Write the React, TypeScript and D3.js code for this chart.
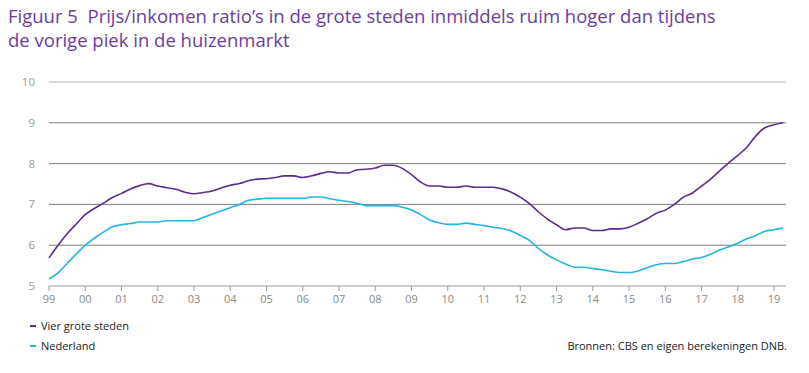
import React from "react";
import * as d3 from "d3";

const WIDTH = 809;
const HEIGHT = 373;
const MARGIN = { top: 82, right: 23, bottom: 87, left: 49 };

const PURPLE = "#5b2d8e";
const BLUE = "#22b5e2";

const yearLabels = ["99", "00", "01", "02", "03", "04", "05", "06", "07", "08", "09", "10", "11", "12", "13", "14", "15", "16", "17", "18", "19"];
const yTicks = [5, 6, 7, 8, 9, 10];

// quarterly, 1999Q1 .. 2019Q2
const vierGroteSteden = [
  5.69, 6.0, 6.28, 6.52, 6.75, 6.9, 7.03, 7.17,
  7.27, 7.38, 7.46, 7.51, 7.45, 7.41, 7.37, 7.3,
  7.26, 7.29, 7.33, 7.4, 7.47, 7.51, 7.58, 7.62,
  7.63, 7.66, 7.7, 7.7, 7.66, 7.7, 7.76, 7.8,
  7.77, 7.77, 7.85, 7.86, 7.89, 7.96, 7.96, 7.88,
  7.73, 7.55, 7.45, 7.45, 7.42, 7.42, 7.45, 7.42,
  7.42, 7.42, 7.38, 7.3, 7.18, 7.02, 6.82, 6.64,
  6.5, 6.38, 6.42, 6.42, 6.36, 6.36, 6.4, 6.4,
  6.44, 6.54, 6.65, 6.78, 6.86, 7.0, 7.18, 7.28,
  7.45, 7.62, 7.82, 8.02, 8.2, 8.4, 8.68, 8.88,
  8.95, 9.0,
];
const nederland = [
  5.17, 5.32, 5.55, 5.78, 6.0, 6.17, 6.32, 6.45,
  6.5, 6.53, 6.57, 6.57, 6.57, 6.6, 6.6, 6.6,
  6.6, 6.68, 6.76, 6.84, 6.92, 7.0, 7.1, 7.13,
  7.15, 7.15, 7.15, 7.15, 7.15, 7.18, 7.18, 7.14,
  7.1, 7.07, 7.03, 6.97, 6.97, 6.97, 6.97, 6.93,
  6.86, 6.75, 6.62, 6.55, 6.51, 6.51, 6.54, 6.51,
  6.48, 6.44, 6.41, 6.35, 6.24, 6.12, 5.92, 5.76,
  5.64, 5.54, 5.46, 5.46, 5.43, 5.4, 5.36, 5.33,
  5.33, 5.37, 5.45, 5.52, 5.55, 5.55, 5.6, 5.66,
  5.7, 5.78, 5.88, 5.96, 6.05, 6.16, 6.24, 6.34,
  6.38, 6.42,
];

const series = [
  { name: "Vier grote steden", values: vierGroteSteden, color: PURPLE },
  { name: "Nederland", values: nederland, color: BLUE },
];

const FONT = "'Open Sans', 'DejaVu Sans', sans-serif";

export default function App() {
  const innerW = WIDTH - MARGIN.left - MARGIN.right;
  const innerH = HEIGHT - MARGIN.top - MARGIN.bottom;

  const x = d3.scaleLinear().domain([1999, 2019.33]).range([0, innerW]);
  const y = d3.scaleLinear().domain([5, 10]).range([innerH, 0]);

  const line = d3
    .line<number>()
    .x((_, i) => x(1999 + i / 4))
    .y((d) => y(d))
    .curve(d3.curveMonotoneX);

  return (
    <svg
      width={WIDTH}
      height={HEIGHT}
      style={{ position: "absolute", left: 0, top: 0, background: "#fff" }}
      fontFamily={FONT}
    >
      <text x={8} y={23} fill="#6a3d9e" fontSize={18.5}>
        {"Figuur 5\u00a0\u00a0Prijs/inkomen ratio’s in de grote steden inmiddels ruim hoger dan tijdens"}
      </text>
      <text x={8} y={47} fill="#6a3d9e" fontSize={18.5}>
        de vorige piek in de huizenmarkt
      </text>

      <g transform={`translate(${MARGIN.left},${MARGIN.top})`}>
        {yTicks.map((t) => (
          <g key={t}>
            {t > 5 && (
              <line
                x1={0}
                x2={innerW}
                y1={y(t)}
                y2={y(t)}
                stroke={t === 10 ? "#b5b5b5" : "#7f7f7f"}
                strokeWidth={1}
              />
            )}
            <text x={-14} y={y(t)} dy="0.35em" textAnchor="end" fill="#9a9a9a" fontSize={11.5}>
              {t}
            </text>
          </g>
        ))}

        <line x1={0} x2={innerW} y1={innerH} y2={innerH} stroke="#9a9a9a" strokeWidth={1} />
        {yearLabels.map((lab, i) => (
          <g key={lab} transform={`translate(${x(1999 + i)},${innerH})`}>
            <line y1={0} y2={5} stroke="#9a9a9a" />
            <text y={17} textAnchor="middle" fill="#8a8a8a" fontSize={11}>
              {lab}
            </text>
          </g>
        ))}

        {series.map((s) => (
          <path key={s.name} d={line(s.values) ?? ""} fill="none" stroke={s.color} strokeWidth={1.6} />
        ))}
      </g>

      {series.map((s, i) => (
        <g key={s.name} transform={`translate(30,${326 + i * 20})`}>
          <line x1={0} x2={6} y1={0} y2={0} stroke={s.color} strokeWidth={2} />
          <text x={11} dy="0.35em" fontSize={11} fill="#222">
            {s.name}
          </text>
        </g>
      ))}
      <text x={787} y={346} dy="0.35em" textAnchor="end" fontSize={11} fill="#222">
        Bronnen: CBS en eigen berekeningen DNB.
      </text>
    </svg>
  );
}
